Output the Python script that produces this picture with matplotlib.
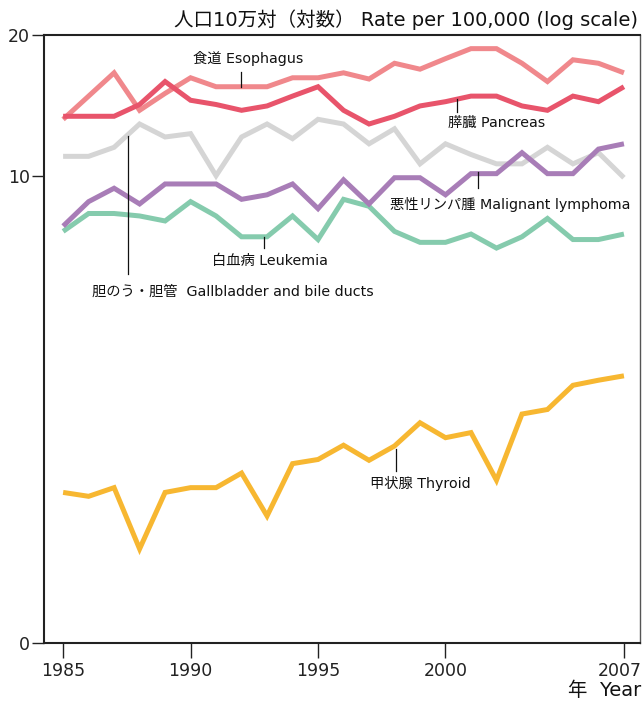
import matplotlib
matplotlib.use("Agg")
import matplotlib.pyplot as plt
from matplotlib.lines import Line2D
from matplotlib.ticker import FixedLocator, NullLocator
from matplotlib.transforms import ScaledTranslation

plt.rcParams['font.family'] = ['DejaVu Sans', 'Noto Sans CJK JP']

years = list(range(1985, 2008))
esophagus = [13.2, 14.8, 16.6, 13.8, 15.0, 16.2, 15.5, 15.5, 15.5, 16.2, 16.2, 16.6,
             16.1, 17.4, 16.9, 17.8, 18.7, 18.7, 17.4, 15.9, 17.7, 17.4, 16.6]
pancreas = [13.4, 13.4, 13.4, 14.2, 15.9, 14.5, 14.2, 13.8, 14.1, 14.8, 15.5, 13.8,
            12.9, 13.4, 14.1, 14.4, 14.8, 14.8, 14.1, 13.8, 14.8, 14.4, 15.5]
gallbladder = [11.0, 11.0, 11.5, 12.9, 12.1, 12.3, 10.0, 12.1, 12.9, 12.0, 13.2, 12.9,
               11.7, 12.6, 10.6, 11.7, 11.1, 10.6, 10.6, 11.5, 10.6, 11.2, 9.9]
lymphoma = [7.8, 8.8, 9.4, 8.7, 9.6, 9.6, 9.6, 8.9, 9.1, 9.6, 8.5, 9.8,
            8.7, 9.9, 9.9, 9.1, 10.1, 10.1, 11.2, 10.1, 10.1, 11.4, 11.7]
leukemia = [7.6, 8.3, 8.3, 8.2, 8.0, 8.8, 8.2, 7.4, 7.4, 8.2, 7.3, 8.9,
            8.6, 7.6, 7.2, 7.2, 7.5, 7.0, 7.4, 8.1, 7.3, 7.3, 7.5]
thyroid = [2.10, 2.06, 2.15, 1.59, 2.10, 2.15, 2.15, 2.31, 1.87, 2.42, 2.47, 2.65,
           2.46, 2.64, 2.96, 2.75, 2.82, 2.23, 3.09, 3.16, 3.56, 3.65, 3.73]

series = [
    (gallbladder, '#d5d5d5'),
    (leukemia, '#85cbad'),
    (lymphoma, '#a87db7'),
    (thyroid, '#f7b731'),
    (esophagus, '#f0888c'),
    (pancreas, '#e8546b'),
]

xticks = [1985, 1990, 1995, 2000, 2007]
yticks = [1, 10, 20]
ytick_labels = ['0', '10', '20']

W, H = 643, 701
fig = plt.figure(figsize=(W / 100, H / 100), dpi=100)
ax = fig.add_axes([44 / W, 1 - 643 / H, (640 - 44) / W, (643 - 35) / H])

for vals, col in series:
    ax.plot(years, vals, color=col, lw=3.6, solid_joinstyle='miter', solid_capstyle='butt')

ax.set_yscale('log')
ax.set_ylim(1, 20)
ax.set_xlim(1984.25, 2007.63)
ax.yaxis.set_major_locator(FixedLocator(yticks))
ax.yaxis.set_minor_locator(NullLocator())
ax.set_yticklabels(ytick_labels)
ax.set_xticks(xticks)
ax.set_xticklabels([str(x) for x in xticks])
ax.tick_params(axis='both', direction='out', labelsize=12.5, colors='#222222')
ax.tick_params(axis='y', length=9, width=1.0, pad=1)
ax.tick_params(axis='x', length=11, width=1.0, pad=3)
for s in ['left', 'bottom', 'top']:
    ax.spines[s].set_linewidth(1.5)
    ax.spines[s].set_color('#222222')
ax.spines['right'].set_linewidth(1.0)
ax.spines['right'].set_color('#555555')

last = ax.get_xticklabels()[-1]
last.set_transform(last.get_transform() + ScaledTranslation(-0.045, 0, fig.dpi_scale_trans))

def fx(px):
    return px / W

def fy(py):
    return 1 - py / H

def label(px, py, txt, ha='center'):
    fig.text(fx(px), fy(py), txt, ha=ha, va='center', fontsize=10.3, color='#111111')

def leader(px, y0, y1):
    fig.add_artist(Line2D([fx(px), fx(px)], [fy(y0), fy(y1)], color='#111111', lw=0.9))

label(248, 59, '食道 Esophagus')
leader(241, 72, 87)
label(497, 123, '膵臓 Pancreas')
leader(457, 99, 112)
label(510, 205, '悪性リンパ腫 Malignant lymphoma')
leader(478, 172, 188)
label(270, 261, '白血病 Leukemia')
leader(264, 237, 248)
label(233, 292, '胆のう・胆管  Gallbladder and bile ducts')
leader(128, 136, 274)
label(420, 483, '甲状腺 Thyroid')
leader(396, 449, 471)

fig.text(fx(638), fy(20), '人口10万対（対数） Rate per 100,000 (log scale)',
         ha='right', va='center', fontsize=14, color='#111111')
fig.text(fx(641), fy(690), '年  Year', ha='right', va='center', fontsize=14, color='#111111')

fig.savefig('out.png', dpi=100)
